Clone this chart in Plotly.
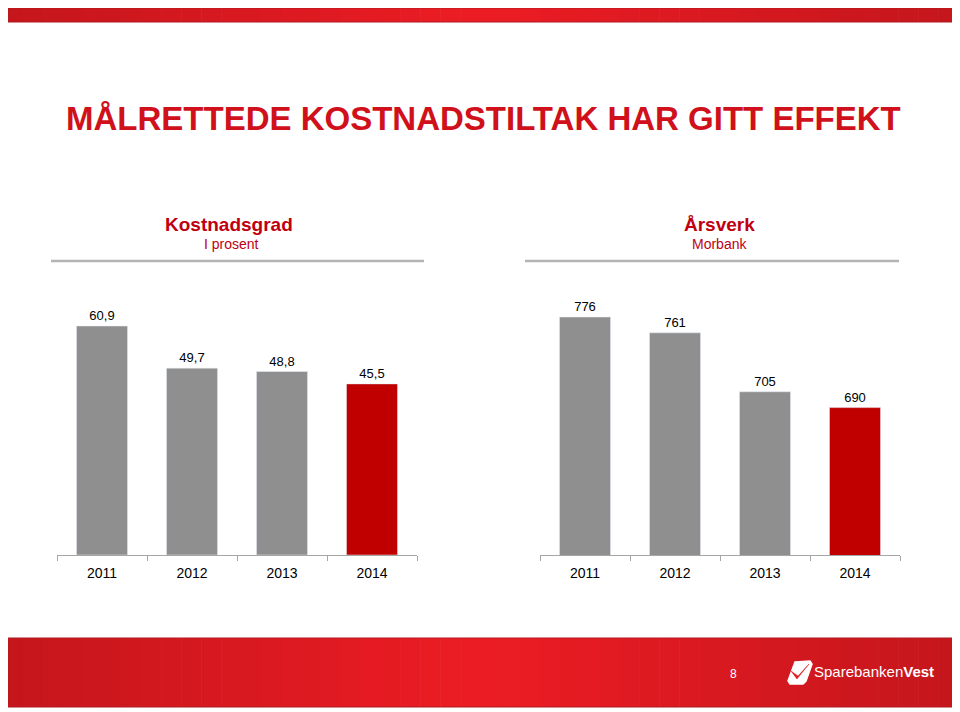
import plotly.graph_objects as go

# The page has an 8px body margin; the figure is sized so that it ends at the window edge
OFF = 8
W, H = 960 - OFF, 712 - OFF

years = ["2011", "2012", "2013", "2014"]
kostnadsgrad = [60.9, 49.7, 48.8, 45.5]
arsverk = [776, 761, 705, 690]
bar_colors = ["#8F8F8F", "#8F8F8F", "#8F8F8F", "#C00000"]

title_text = "MÅLRETTEDE KOSTNADSTILTAK HAR GITT EFFEKT"
left_title, left_sub = "Kostnadsgrad", "I prosent"
right_title, right_sub = "Årsverk", "Morbank"
page_no = "8"


def px(x):
    return max(0.0, (x - OFF) / W)


def py(y):
    return min(1.0, 1 - (y - OFF) / H)


def fmt(v):
    return (f"{v:.1f}" if isinstance(v, float) else str(v)).replace(".", ",")


fig = go.Figure()
fig.add_trace(go.Bar(x=years, y=kostnadsgrad, marker_color=bar_colors,
                     text=[fmt(v) for v in kostnadsgrad], textposition="outside",
                     textfont=dict(size=13, color="#000000"), cliponaxis=False,
                     xaxis="x", yaxis="y", hoverinfo="skip"))
fig.add_trace(go.Bar(x=years, y=arsverk, marker_color=bar_colors,
                     text=[fmt(v) for v in arsverk], textposition="outside",
                     textfont=dict(size=13, color="#000000"), cliponaxis=False,
                     xaxis="x2", yaxis="y2", hoverinfo="skip"))

red_txt = "#C00010"


def ann(x, y, text, size, color, xanchor="center", family=None):
    f = dict(size=size, color=color)
    if family:
        f["family"] = family
    return dict(x=px(x), y=py(y), xref="paper", yref="paper", text=text, showarrow=False,
                xanchor=xanchor, yanchor="middle", font=f)


annotations = [
    ann(483, 118, "<b>" + title_text + "</b>", 33, "#D0101A"),
    ann(229, 224, "<b>" + left_title + "</b>", 19, red_txt),
    ann(231, 244, left_sub, 14, red_txt),
    ann(719, 224, "<b>" + right_title + "</b>", 19, red_txt),
    ann(719, 244, right_sub, 14, red_txt),
    ann(733, 674, page_no, 12, "#FFFFFF"),
    ann(812, 671, "Sparebanken<b>Vest</b>", 15, "#FFFFFF", xanchor="left",
        family="Liberation Sans, Arial"),
]

shapes = []


def lerp(c1, c2, t):
    return tuple(int(round(a + (b - a) * t)) for a, b in zip(c1, c2))


edge = (196, 22, 28)
mid = (237, 28, 36)
N = 48
for (y0, y1) in [(3, 22), (638, 707)]:
    x0, x1 = 2, 958
    step = (x1 - x0) / N
    for i in range(N):
        t = 1 - abs((i + 0.5) / N - 0.5) * 2
        c = lerp(edge, mid, t)
        shapes.append(dict(type="rect", xref="paper", yref="paper",
                           x0=px(x0 + i * step), x1=px(x0 + (i + 1) * step + 0.6),
                           y0=py(y1), y1=py(y0), line=dict(width=0),
                           fillcolor=f"rgb{c}", layer="below"))
    shapes.append(dict(type="rect", xref="paper", yref="paper", x0=px(x0), x1=px(x1),
                       y0=py(y1), y1=py(y0), line=dict(width=1, color="#B01A20")))

# separator lines under the chart titles
for (a, b) in [(51, 424), (525, 899)]:
    shapes.append(dict(type="line", xref="paper", yref="paper", x0=px(a), x1=px(b),
                       y0=py(261), y1=py(261), line=dict(width=2.5, color="#B4B4B4")))


def pth(points):
    return "M" + " L".join(f"{px(x):.5f},{py(y):.5f}" for x, y in points) + " Z"


# logo icon (approximation)
icon = [(795, 662), (810, 661), (812, 664), (806, 681), (803, 684), (790, 684), (788, 681)]
shapes.append(dict(type="path", xref="paper", yref="paper", path=pth(icon),
                   fillcolor="#FFFFFF", line=dict(width=1.5, color="#FFFFFF")))
swoosh = [(791, 671), (797, 679), (809, 664), (798, 676)]
shapes.append(dict(type="path", xref="paper", yref="paper", path=pth(swoosh),
                   fillcolor="#E31B23", line=dict(width=0.5, color="#E31B23")))

axis_common = dict(
    type="category", range=[-0.5, 3.5], showline=True, linecolor="#A6A6A6", linewidth=1,
    ticks="outside", tickson="boundaries", ticklen=5, tickcolor="#A6A6A6",
    ticklabelstandoff=5,
    showgrid=False, zeroline=False, tickfont=dict(size=14, color="#000000"), fixedrange=True,
)

y_bottom, y_top = 555, 280
fig.update_layout(
    width=W, height=H, margin=dict(l=0, r=0, t=0, b=0),
    paper_bgcolor="#FFFFFF", plot_bgcolor="rgba(0,0,0,0)",
    showlegend=False, bargap=0.433,
    font=dict(family="Liberation Sans, Arial", color="#000000"),
    xaxis=dict(domain=[px(57), px(417)], anchor="y", **axis_common),
    xaxis2=dict(domain=[px(540), px(900)], anchor="y2", **axis_common),
    yaxis=dict(domain=[py(y_bottom), py(y_top)], range=[0, (y_bottom - y_top) / 3.76],
               visible=False, fixedrange=True),
    yaxis2=dict(domain=[py(y_bottom), py(y_top)], range=[550, 550 + (y_bottom - y_top) / 1.053],
                visible=False, fixedrange=True),
    annotations=annotations, shapes=shapes,
)

fig.write_html("out.html")
